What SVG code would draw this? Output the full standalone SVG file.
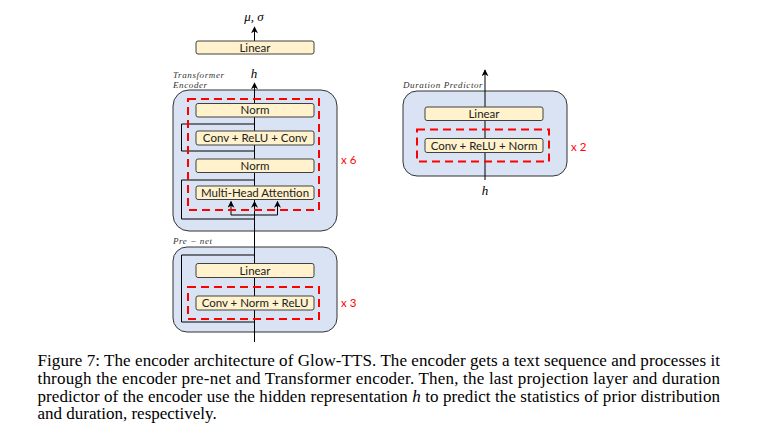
<svg xmlns="http://www.w3.org/2000/svg" width="757" height="448" viewBox="0 0 757 448">
<defs>
<marker id="arr" viewBox="0 0 10 10" refX="9" refY="5" markerWidth="7" markerHeight="7" markerUnits="userSpaceOnUse" orient="auto">
<path d="M0,0 L10,5 L0,10 L3,5 Z" fill="#000"/>
</marker>
<style>
.outer{fill:#DAE3F3;stroke:#333;stroke-width:1}
.node{fill:#FFF2CC;stroke:#404040;stroke-width:1}
.lbl{font-family:Lato,"Liberation Sans",sans-serif;font-size:11.5px;fill:#222;text-anchor:middle}
.dash{fill:none;stroke:#FF0000;stroke-width:2;stroke-dasharray:8 5}
.rep{font-family:Lato,"Liberation Sans",sans-serif;font-size:11.5px;fill:#FF0000}
.sec{font-family:"Liberation Serif",serif;font-style:italic;font-size:9px;fill:#333;letter-spacing:0.6px}
.math{font-family:"Liberation Serif",serif;font-style:italic;font-size:13px;fill:#000;text-anchor:middle}
.ln{fill:none;stroke:#000;stroke-width:1}
.cap{font-family:"Liberation Serif",serif;font-size:17px;fill:#000}
</style>
</defs>

<rect width="757" height="448" fill="#fff"/>

<g id="transformer-encoder">
<rect class="outer" x="173" y="90" width="164" height="141" rx="16"/>
<text class="sec" x="173" y="78">Transformer</text>
<text class="sec" x="173" y="87.5">Encoder</text>
</g>
<g id="pre-net">
<rect class="outer" x="173" y="247" width="164" height="85" rx="14"/>
<text class="sec" x="173" y="244">Pre − net</text>
</g>
<g id="duration-predictor">
<rect class="outer" x="403" y="91" width="164" height="85" rx="14"/>
<text class="sec" x="403" y="88">Duration Predictor</text>
</g>

<g id="connectors">
<line class="ln" x1="254.5" y1="342" x2="254.5" y2="83" marker-end="url(#arr)"/>
<line class="ln" x1="254.5" y1="54" x2="254.5" y2="27" marker-end="url(#arr)"/>
<polyline class="ln" points="254.5,124 181.5,124 181.5,151 254.5,151"/>
<polyline class="ln" points="254.5,180 181.5,180 181.5,219 254.5,219"/>
<polyline class="ln" points="254.5,255 181.5,255 181.5,322 254.5,322"/>
<polyline class="ln" points="231,215 277.5,215"/>
<line class="ln" x1="231" y1="215" x2="231" y2="201.5" marker-end="url(#arr)"/>
<line class="ln" x1="277.5" y1="215" x2="277.5" y2="201.5" marker-end="url(#arr)"/>
<line class="ln" x1="254.5" y1="215" x2="254.5" y2="201.5" marker-end="url(#arr)"/>
<line class="ln" x1="485" y1="180" x2="485" y2="70" marker-end="url(#arr)"/>
</g>

<g id="linear-out">
<rect class="node" x="196" y="41" width="118" height="13" rx="2"/>
<text class="lbl" x="255" y="51.5">Linear</text>
</g>
<g id="norm1">
<rect class="node" x="196" y="103.5" width="118" height="13.5" rx="2"/>
<text class="lbl" x="255" y="114.2">Norm</text>
</g>
<g id="ffn">
<rect class="node" x="196" y="131" width="118" height="14" rx="2"/>
<text class="lbl" x="255" y="142">Conv + ReLU + Conv</text>
</g>
<g id="norm2">
<rect class="node" x="196" y="159" width="118" height="13.5" rx="2"/>
<text class="lbl" x="255" y="169.8">Norm</text>
</g>
<g id="mha">
<rect class="node" x="196" y="186" width="118" height="13.5" rx="2"/>
<text class="lbl" x="255" y="196.8">Multi-Head Attention</text>
</g>
<g id="pre-linear">
<rect class="node" x="196" y="263.5" width="118" height="14" rx="2"/>
<text class="lbl" x="255" y="274.5">Linear</text>
</g>
<g id="pre-conv">
<rect class="node" x="196" y="296" width="118" height="14" rx="2"/>
<text class="lbl" x="255" y="307">Conv + Norm + ReLU</text>
</g>
<g id="dp-linear">
<rect class="node" x="425" y="107" width="118" height="13.5" rx="2"/>
<text class="lbl" x="484" y="117.8">Linear</text>
</g>
<g id="dp-conv">
<rect class="node" x="425" y="138.5" width="118" height="14" rx="2"/>
<text class="lbl" x="484" y="149.5">Conv + ReLU + Norm</text>
</g>

<g id="repeat-blocks">
<rect class="dash" x="188" y="99" width="131" height="111"/>
<text class="rep" x="341" y="164">x 6</text>
<rect class="dash" x="188" y="287" width="131" height="32"/>
<text class="rep" x="341" y="307">x 3</text>
<rect class="dash" x="417" y="129.5" width="132" height="32"/>
<text class="rep" x="571" y="151">x 2</text>
</g>

<g id="math-labels">
<text class="math" x="254" y="21">μ, σ</text>
<text class="math" x="254" y="78">h</text>
<text class="math" x="485" y="195">h</text>
</g>

<g id="caption">
<text class="cap" x="37.5" y="366" textLength="682.5" lengthAdjust="spacing">Figure 7: The encoder architecture of Glow-TTS. The encoder gets a text sequence and processes it</text>
<text class="cap" x="37.5" y="384" textLength="682.5" lengthAdjust="spacing">through the encoder pre-net and Transformer encoder. Then, the last projection layer and duration</text>
<text class="cap" x="37.5" y="401.5" textLength="682.5" lengthAdjust="spacing">predictor of the encoder use the hidden representation <tspan font-style="italic">h</tspan> to predict the statistics of prior distribution</text>
<text class="cap" x="37.5" y="419">and duration, respectively.</text>
</g>
</svg>
